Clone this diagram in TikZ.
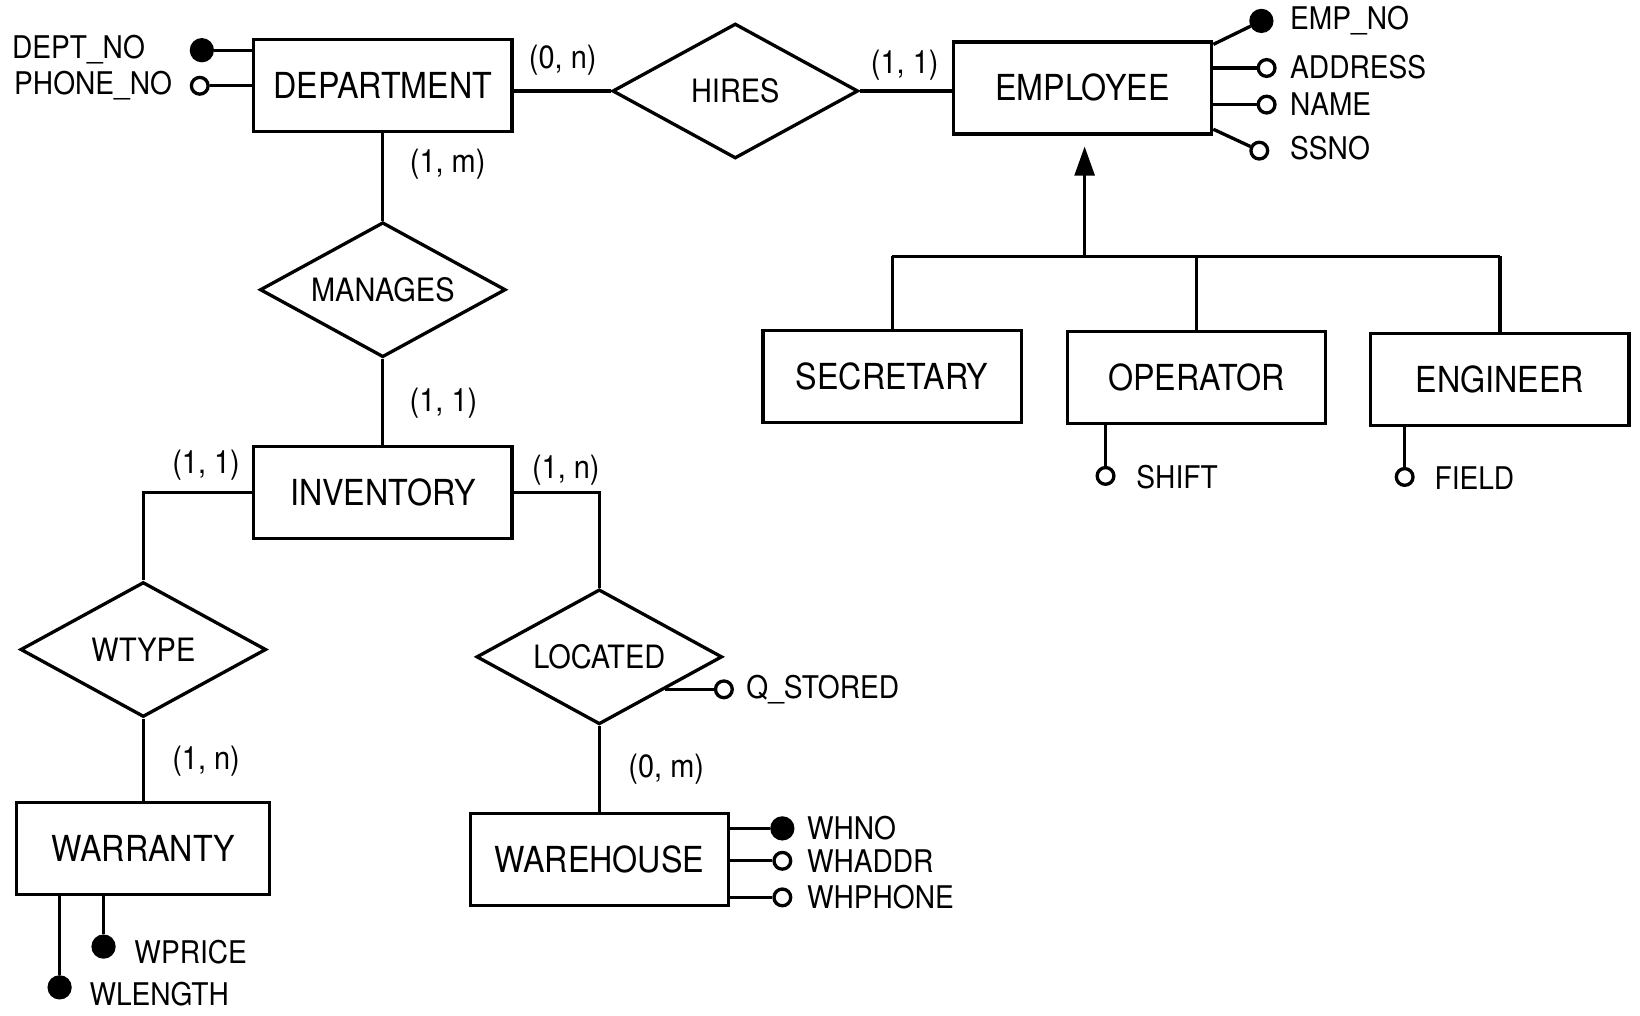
\documentclass[tikz,border=0pt]{standalone}
\usepackage{fontspec}
\setmainfont{TeX Gyre Heros}[FakeStretch=0.9]
\usetikzlibrary{shapes.geometric,arrows.meta,calc}

\tikzset{
  entity/.style={draw, rectangle, minimum width=4.94cm, minimum height=1.76cm,
    inner sep=0pt, font=\fontsize{19.5}{22}\selectfont},
  relation/.style={draw, diamond, aspect=2, minimum width=4.7cm, minimum height=2.58cm,
    inner sep=0pt, font=\fontsize{17.5}{20}\selectfont},
  keydot/.style={circle, fill=black, draw=black, minimum size=0.4cm, inner sep=0pt},
  attrdot/.style={circle, fill=white, draw=black, minimum size=0.32cm, inner sep=0pt},
  attrlabel/.style={anchor=west, inner sep=0pt, font=\fontsize{17}{20}\selectfont},
  card/.style={inner sep=0pt, font=\fontsize{17.5}{20}\selectfont},
}

\begin{document}
\begin{tikzpicture}[x=0.02cm, y=-0.02cm, line width=1.8pt]
\useasboundingbox (0,0) rectangle (1568,971);

% entities and relationships
\node[entity] (dep) at (366,82) {DEPARTMENT};
\node[relation] (hires) at (703,87) {HIRES};
\node[entity] (emp) at (1035,84) {EMPLOYEE};
\node[relation] (man) at (366,277) {MANAGES};
\node[entity] (inv) at (366,471) {INVENTORY};
\node[relation] (wty) at (137,621) {WTYPE};
\node[relation] (loc) at (573,628) {LOCATED};
\node[entity, minimum width=4.84cm] (war) at (137,811) {WARRANTY};
\node[entity] (wh) at (573,822) {WAREHOUSE};
\node[entity] (sec) at (853,360) {SECRETARY};
\node[entity] (op) at (1144,361) {OPERATOR};
\node[entity] (eng) at (1434,363) {ENGINEER};

% relationship links
\draw (hires.west -| dep.east) -- (hires.west);
\draw (hires.east) -- (hires.east -| emp.west);
\draw (dep.south) -- (man.north);
\draw (man.south) -- (inv.north);
\draw (inv.west) -| (wty.north);
\draw (inv.east) -| (loc.north);
\draw (wty.south) -- (war.north);
\draw (loc.south) -- (wh.north);

% generalization hierarchy
\coordinate (isa) at (1037,245);
\coordinate (isatip) at (1037,140);
\draw[-{Triangle[length=0.56cm,width=0.38cm]}] (isa) -- (isatip);
\draw (sec.north |- isa) -- (eng.north |- isa);
\draw (sec.north) -- (sec.north |- isa);
\draw (op.north) -- (op.north |- isa);
\draw (eng.north) -- (eng.north |- isa);

% cardinalities
\node[card] (c1) at (538,58) {(0, n)};
\node[card] (c2) at (865,62) {(1, 1)};
\node[card] (c3) at (428,157) {(1, m)};
\node[card] (c4) at (424,385) {(1, 1)};
\node[card] (c5) at (197,445) {(1, 1)};
\node[card] (c6) at (541,450) {(1, n)};
\node[card] (c7) at (197,728) {(1, n)};
\node[card] (c8) at (637,735) {(0, m)};

% DEPARTMENT attributes
\node[keydot] (deptno) at (193,48) {};
\node[attrdot] (phoneno) at (191,82) {};
\draw (deptno) -- (deptno -| dep.west);
\draw (phoneno) -- (phoneno -| dep.west);
\node[attrlabel] (deptnol) at (10,47) {DEPT\_NO};
\node[attrlabel] (phonenol) at (12,82) {PHONE\_NO};

% EMPLOYEE attributes
\node[keydot] (empno) at (1206,20) {};
\draw ([yshift=-0.08cm]emp.north east) -- (empno);
\node[attrdot] (addr) at (1211,65) {};
\draw (addr) -- (addr -| emp.east);
\node[attrdot] (name) at (1211,100) {};
\draw (name) -- (name -| emp.east);
\node[attrdot] (ssno) at (1204,144) {};
\draw ([yshift=0.12cm]emp.south east) -- (ssno);
\node[attrlabel] (empnol) at (1232,20) {EMP\_NO};
\node[attrlabel] (addrl) at (1232,64) {ADDRESS};
\node[attrlabel] (namel) at (1232,100) {NAME};
\node[attrlabel] (ssnol) at (1232,142) {SSNO};

% subclass attributes
\node[attrdot] (shift) at (1057,455) {};
\draw (shift) -- (shift |- op.south);
\node[attrlabel] (shiftl) at (1085,456) {SHIFT};
\node[attrdot] (field) at (1343,456) {};
\draw (field) -- (field |- eng.south);
\node[attrlabel] (fieldl) at (1370,457) {FIELD};

% WARRANTY attributes
\node[keydot] (wlen) at (57,944) {};
\draw (wlen) -- (wlen |- war.south);
\node[keydot] (wpr) at (99,905) {};
\draw (wpr) -- (wpr |- war.south);
\node[attrlabel] (wlenl) at (84,950) {WLENGTH};
\node[attrlabel] (wprl) at (127,910) {WPRICE};

% LOCATED attribute
\coordinate (qs) at ($(loc.east)!0.47!(loc.south)$);
\path (qs) ++(56,0) node[attrdot] (qstored) {};
\draw (qs) -- (qstored);
\node[attrlabel] (qstoredl) at ($(qstored)+(20,0)$) {Q\_STORED};

% WAREHOUSE attributes
\node[keydot] (whno) at (748,792) {};
\draw (whno) -- (whno -| wh.east);
\node[attrdot] (whaddr) at (748,823) {};
\draw (whaddr) -- (whaddr -| wh.east);
\node[attrdot] (whph) at (748,858) {};
\draw (whph) -- (whph -| wh.east);
\node[attrlabel] (whnol) at (770,792) {WHNO};
\node[attrlabel] (whaddrl) at (770,823) {WHADDR};
\node[attrlabel] (whphl) at (770,858) {WHPHONE};
\end{tikzpicture}
\end{document}
